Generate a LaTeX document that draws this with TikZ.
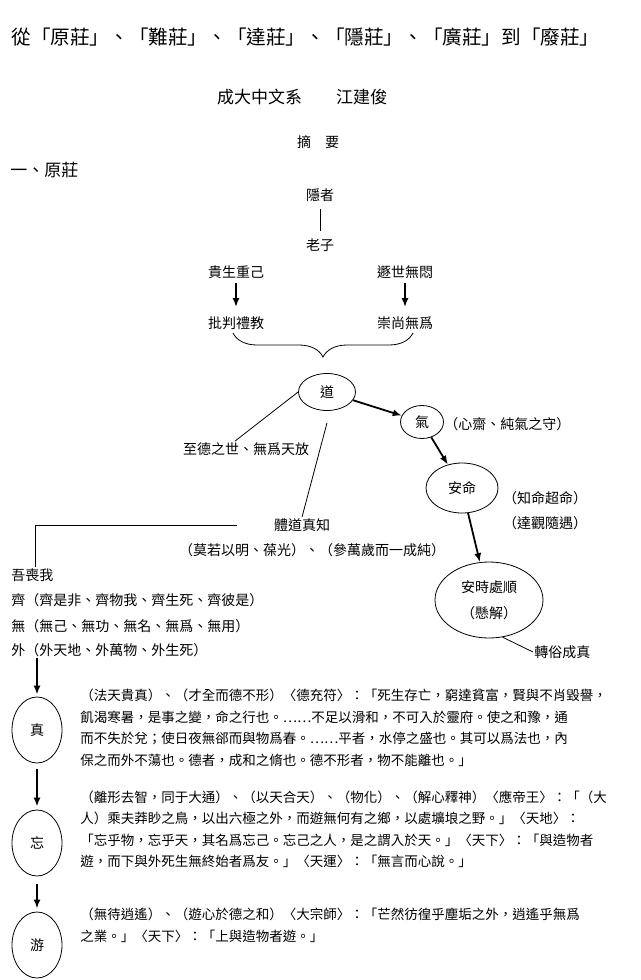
\documentclass[tikz,border=0pt]{standalone}
\usepackage{fontspec}
\newfontfamily\cjk{Noto Sans CJK TC}
\usetikzlibrary{shapes.geometric, arrows.meta, positioning, decorations.pathreplacing}

\tikzset{
    txt/.style={font=\cjk\fontsize{14}{16}\selectfont, inner sep=1pt},
    oval/.style={draw, ellipse, inner sep=0pt, font=\cjk\fontsize{14}{16}\selectfont},
    fatarrow/.style={line width=1.8pt, -{Latex[length=9pt,width=7pt]}},
    para/.style={font=\cjk\fontsize{13.5}{21.5}\selectfont, align=left, anchor=north west, inner sep=0pt}
}

\begin{document}
\begin{tikzpicture}[x=1pt, y=-1pt, line width=0.8pt]
\useasboundingbox (0,0) rectangle (640,980);

% Title, author and heading
\node[font=\cjk\fontsize{19.6}{21}\selectfont, anchor=west, inner sep=0pt] (title) at (11,37) {從「原莊」、「難莊」、「達莊」、「隱莊」、「廣莊」到「廢莊」};
\node[font=\cjk\fontsize{17}{19}\selectfont, inner sep=0pt] (author) at (302,97) {成大中文系　　江建俊};
\node[txt] (abstract) at (318,142) {摘\quad 要};
\node[font=\cjk\fontsize{17}{19}\selectfont, anchor=west, inner sep=0pt] (sec) at (10,170) {一、原莊};

% Laozi and his two sides
\node[txt] (yinzhe) at (320,195) {隱者};
\node[txt] (laozi) at (320,245) {老子};
\draw[shorten <=6pt, shorten >=6pt] (yinzhe) -- (laozi);

\node[txt] (guisheng) at (236,272) {貴生重己};
\node[txt] (dunshi) at (405,272) {遯世無悶};
\node[txt] (pipan) at (236,323) {批判禮教};
\node[txt] (chongshang) at (405,323) {崇尚無爲};
\draw[fatarrow, shorten <=3pt, shorten >=8pt] (guisheng) -- (pipan);
\draw[fatarrow, shorten <=3pt, shorten >=8pt] (dunshi) -- (chongshang);

% Brace down to the Dao
\draw[decorate, decoration={brace, amplitude=24pt}] (413,333) -- (233,333);

% Dao, qi and the chain of ovals
\node[oval, minimum width=57pt, minimum height=37pt] (dao) at (327,392) {道};
\node[oval, minimum width=43pt, minimum height=33pt] (qi) at (422,422) {氣};
\node[txt, anchor=west] (xinzhai) at (443,424) {（心齋、純氣之守）};
\node[oval, minimum width=72pt, minimum height=50pt] (anming) at (462,488) {安命};
\node[txt] (zhiming) at (545,498) {（知命超命）};
\node[txt] (daguan) at (545,523) {（達觀隨遇）};
\node[oval, minimum width=108pt, minimum height=76pt, align=center] (anshi) at (489,600) {安時處順\\[10pt]（懸解）};
\node[txt, anchor=west] (zhuansu) at (533,652) {轉俗成真};

\draw[fatarrow] (dao) -- (qi);
\draw[fatarrow] (qi) -- (anming);
\draw[fatarrow] (anming) -- (anshi);
\draw (anshi.-70) -- (zhuansu.west);

% Branches on the left of the Dao
\node[txt] (zhide) at (246,449) {至德之世、無爲天放};
\draw (dao.west) -- ([xshift=-11pt]zhide.north);
\node[txt] (tidao) at (302,525) {體道真知};
\node[txt] (moruo) at (312,550) {（莫若以明、葆光）、（參萬歲而一成純）};
\draw ([yshift=-12pt]dao.south) -- (tidao.north);

% Wu sang wo
\node[txt, anchor=west] (wusang) at (10,575) {吾喪我};
\node[txt, anchor=west] (qiwu) at (10,600) {齊（齊是非、齊物我、齊生死、齊彼是）};
\node[txt, anchor=west] (wuji) at (10,626) {無（無己、無功、無名、無爲、無用）};
\node[txt, anchor=west] (wai) at (10,650) {外（外天地、外萬物、外生死）};
\draw ([xshift=-36pt]tidao.west) -| ([xshift=25pt]wusang.north west);

% Three stages
\foreach \name/\lbl/\y in {zhen/真/730, wang/忘/843, you/游/945}
{
    \node[oval, minimum width=50pt, minimum height=66pt] (\name) at (37,\y) {\lbl};
}
\draw[fatarrow, shorten >=2pt] (zhen.north |- wai.south) -- (zhen.north);
\draw[fatarrow, shorten <=6pt, shorten >=3pt] (zhen) -- (wang);
\draw[fatarrow, shorten <=8pt, shorten >=3pt] (wang) -- (you);

% Texts of the stages
\node[para] (zhentext) at (80,689) {（法天貴真）、（才全而德不形）〈德充符〉：「死生存亡，窮達貧富，賢與不肖毀譽，\\
飢渴寒暑，是事之變，命之行也。……不足以滑和，不可入於靈府。使之和豫，通\\
而不失於兌；使日夜無郤而與物爲春。……平者，水停之盛也。其可以爲法也，內\\
保之而外不蕩也。德者，成和之脩也。德不形者，物不能離也。」};

\node[para] (wangtext) at (80,790) {（離形去智，同于大通）、（以天合天）、（物化）、（解心釋神）〈應帝王〉：「（大\\
人）乘夫莽眇之鳥，以出六極之外，而遊無何有之鄉，以處壙埌之野。」〈天地〉：\\
「忘乎物，忘乎天，其名爲忘己。忘己之人，是之謂入於天。」〈天下〉：「與造物者\\
遊，而下與外死生無終始者爲友。」〈天運〉：「無言而心說。」};

\node[para] (youtext) at (80,908) {（無待逍遙）、（遊心於德之和）〈大宗師〉：「芒然彷徨乎塵垢之外，逍遙乎無爲\\
之業。」〈天下〉：「上與造物者遊。」};

\end{tikzpicture}
\end{document}
